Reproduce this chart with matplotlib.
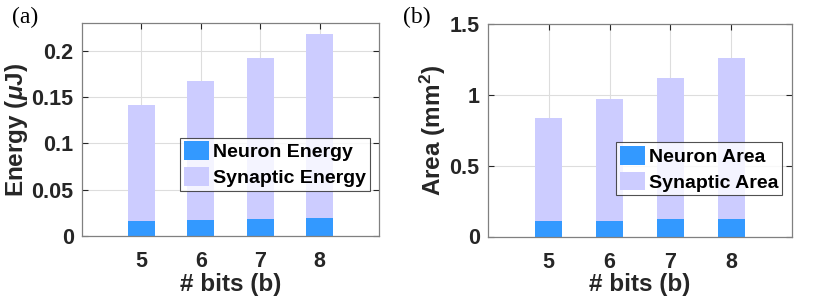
import matplotlib.pyplot as plt

plt.rcParams['font.family'] = ['Liberation Sans', 'DejaVu Sans']
plt.rcParams['font.weight'] = 'bold'
plt.rcParams['axes.labelweight'] = 'bold'
plt.rcParams['mathtext.fontset'] = 'custom'
plt.rcParams['mathtext.it'] = 'Liberation Sans:italic:bold'
plt.rcParams['mathtext.rm'] = 'Liberation Sans:bold'

bits = [5, 6, 7, 8]
neuron_energy = [0.0162, 0.0173, 0.0184, 0.019]
total_energy = [0.1413, 0.1676, 0.1924, 0.2184]
neuron_area = [0.108, 0.108, 0.123, 0.127]
total_area = [0.837, 0.971, 1.121, 1.258]

synaptic_energy = [t - n for t, n in zip(total_energy, neuron_energy)]
synaptic_area = [t - n for t, n in zip(total_area, neuron_area)]

blue = "#3399ff"
lilac = "#ccccff"
dark = "#262626"

fig = plt.figure(figsize=(8.31, 3.02), dpi=100)
ax1 = fig.add_axes([82/831, 1 - 236/302, 297/831, 213/302])
ax2 = fig.add_axes([488/831, 1 - 236.5/302, 304/831, 212.5/302])


def style(ax, ylabel, yticks, yticklabels, ylim, ylab_x, xlab_y):
    ax.set_xlim(4, 9)
    ax.set_ylim(*ylim)
    ax.set_xticks(bits)
    ax.set_yticks(yticks)
    ax.set_yticklabels(yticklabels)
    ax.tick_params(direction="in", top=True, right=True, length=4, width=0.8,
                   colors=dark, labelsize=15.5, pad=6)
    ax.tick_params(axis="x", pad=11)
    ax.grid(True, color="#dddddd", linewidth=0.8)
    ax.set_axisbelow(True)
    for s in ax.spines.values():
        s.set_color("#808080")
        s.set_linewidth(0.9)
    ax.set_xlabel("# bits (b)", fontsize=17.5, color=dark)
    ax.set_ylabel(ylabel, fontsize=17.5, color=dark)
    ax.yaxis.set_label_coords(ylab_x, 0.5)
    ax.xaxis.set_label_coords(0.5, xlab_y)


# (a) energy
ax1.bar(bits, neuron_energy, width=0.45, color=blue, label="Neuron Energy", zorder=2)
ax1.bar(bits, synaptic_energy, width=0.45, bottom=neuron_energy, color=lilac,
        label="Synaptic Energy", zorder=2)
style(ax1, r"Energy ($\mu$J)", [0, 0.05, 0.1, 0.15, 0.2],
      ["0", "0.05", "0.1", "0.15", "0.2"], (0, 0.23), -0.175, -0.172)
leg1 = ax1.legend(loc="lower left", bbox_to_anchor=(98/297, 45/213), fontsize=14,
                  frameon=True, fancybox=False, edgecolor=dark, borderpad=0.2,
                  handlelength=1.3, handleheight=1.1, handletextpad=0.2,
                  labelspacing=0.3, borderaxespad=0)
leg1.get_frame().set_linewidth(0.8)

# (b) area
ax2.bar(bits, neuron_area, width=0.45, color=blue, label="Neuron Area", zorder=2)
ax2.bar(bits, synaptic_area, width=0.45, bottom=neuron_area, color=lilac,
        label="Synaptic Area", zorder=2)
style(ax2, r"Area (mm$^2$)", [0, 0.5, 1, 1.5], ["0", "0.5", "1", "1.5"], (0, 1.5),
      -0.132, -0.170)
leg2 = ax2.legend(loc="lower left", bbox_to_anchor=(128/304, 41/212.5), fontsize=14,
                  frameon=True, fancybox=False, edgecolor=dark, borderpad=0.2,
                  handlelength=1.3, handleheight=1.1, handletextpad=0.2,
                  labelspacing=0.3, borderaxespad=0)
leg2.get_frame().set_linewidth(0.8)

fig.text(12/831, 1 - 17/302, "(a)", fontsize=17, family="Liberation Serif",
         weight="normal", va="center", ha="left")
fig.text(403/831, 1 - 17/302, "(b)", fontsize=17, family="Liberation Serif",
         weight="normal", va="center", ha="left")

fig.savefig("out.png", dpi=100)
